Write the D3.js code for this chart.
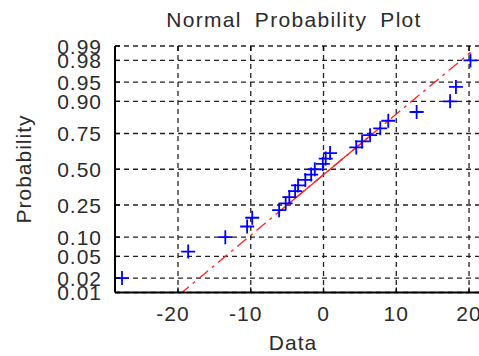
<!DOCTYPE html>
<html>
<head>
<meta charset="utf-8">
<script src="https://cdn.jsdelivr.net/npm/d3@7"></script>
<style>
  body { margin: 0; background: #fff; }
  text { font-family: "Liberation Sans", Arial, sans-serif; fill: #2b2b2b; }
</style>
</head>
<body>
<div id="chart"></div>
<script>
// sample values, sorted
var dataValues = [-27.7, -18.6, -13.5, -10.5, -9.8, -6.1, -5.2, -4.7, -3.9, -3.5,
                  -2.5, -1.7, -1.2, -0.1, 0.3, 0.9, 4.5, 5.3, 6.4, 7.8,
                  8.9, 12.8, 17.4, 18.2, 20.2];
var probTicks = [0.01, 0.02, 0.05, 0.10, 0.25, 0.50, 0.75, 0.90, 0.95, 0.98, 0.99];
var probLabels = ["0.01", "0.02", "0.05", "0.10", "0.25", "0.50", "0.75", "0.90", "0.95", "0.98", "0.99"];
var xTicks = [-20, -10, 0, 10, 20];
var xTickLabels = ["-20", "-10", "0", "10", "20"];
// reference line goes through the sample quartiles (p = 0.25, 0.75)
var refQuartiles = [-5.0, 6.8];

// inverse normal cdf (Acklam)
function norminv(p) {
  var a = [-3.969683028665376e+01, 2.209460984245205e+02, -2.759285104469687e+02, 1.383577518672690e+02, -3.066479806614716e+01, 2.506628277459239e+00];
  var b = [-5.447609879822406e+01, 1.615858368580409e+02, -1.556989798598866e+02, 6.680131188771972e+01, -1.328068155288572e+01];
  var c = [-7.784894002430293e-03, -3.223964580411365e-01, -2.400758277161838e+00, -2.549732539343734e+00, 4.374664141464968e+00, 2.938163982698783e+00];
  var d = [7.784695709041462e-03, 3.224671290700398e-01, 2.445134137142996e+00, 3.754408661907416e+00];
  var q, r;
  if (p < 0.02425) {
    q = Math.sqrt(-2 * Math.log(p));
    return (((((c[0]*q+c[1])*q+c[2])*q+c[3])*q+c[4])*q+c[5]) / ((((d[0]*q+d[1])*q+d[2])*q+d[3])*q+1);
  } else if (p > 1 - 0.02425) {
    q = Math.sqrt(-2 * Math.log(1 - p));
    return -(((((c[0]*q+c[1])*q+c[2])*q+c[3])*q+c[4])*q+c[5]) / ((((d[0]*q+d[1])*q+d[2])*q+d[3])*q+1);
  }
  q = p - 0.5; r = q * q;
  return (((((a[0]*r+a[1])*r+a[2])*r+a[3])*r+a[4])*r+a[5])*q / (((((b[0]*r+b[1])*r+b[2])*r+b[3])*r+b[4])*r+1);
}

var W = 479, H = 356;
var margin = {top: 46, right: 0, bottom: 63.5, left: 115};
var width = W - margin.left - margin.right;
var height = H - margin.top - margin.bottom;

var svg = d3.select("#chart").append("svg")
  .attr("width", W)
  .attr("height", H);

var g = svg.append("g")
  .attr("transform", "translate(" + margin.left + "," + margin.top + ")");

var x = d3.scaleLinear()
  .domain([-28.66, 21.37])
  .range([0, width]);

var y = d3.scaleLinear()
  .domain([norminv(0.01), norminv(0.99)])
  .range([height, 0]);

var n = dataValues.length;
// plotting positions (i - 0.5) / n
var points = dataValues.map(function(v, i) { return {v: v, p: (i + 0.5) / n}; });

g.append("defs").append("clipPath").attr("id", "clip")
  .append("rect").attr("width", width).attr("height", height);

// grid
g.selectAll(".hgrid").data(probTicks).enter().append("line")
  .attr("x1", 0).attr("x2", width)
  .attr("y1", function(d) { return y(norminv(d)); })
  .attr("y2", function(d) { return y(norminv(d)); })
  .attr("stroke", "#222").attr("stroke-width", 1.3)
  .attr("stroke-dasharray", "5,4");

g.selectAll(".vgrid").data(xTicks).enter().append("line")
  .attr("x1", function(d) { return x(d); })
  .attr("x2", function(d) { return x(d); })
  .attr("y1", 0).attr("y2", height)
  .attr("stroke", "#222").attr("stroke-width", 1.3)
  .attr("stroke-dasharray", "5,4");

// reference line
var sigma = (refQuartiles[1] - refQuartiles[0]) / (2 * norminv(0.75));
var mu = (refQuartiles[0] + refQuartiles[1]) / 2;
var lo = d3.min(dataValues), hi = d3.max(dataValues);
var refG = g.append("g").attr("clip-path", "url(#clip)");
refG.append("line")
  .attr("x1", x(lo)).attr("y1", y((lo - mu) / sigma))
  .attr("x2", x(hi)).attr("y2", y((hi - mu) / sigma))
  .attr("stroke", "#ff2020").attr("stroke-width", 1.3)
  .attr("stroke-dasharray", "12,5,3,5");
refG.append("line")
  .attr("x1", x(refQuartiles[0])).attr("y1", y(norminv(0.25)))
  .attr("x2", x(refQuartiles[1])).attr("y2", y(norminv(0.75)))
  .attr("stroke", "#ff2020").attr("stroke-width", 1.3);

// markers
var m = 7;
var marks = g.selectAll(".pt").data(points).enter().append("path")
  .attr("d", function(d) {
    var px = x(d.v), py = y(norminv(d.p));
    return "M" + (px - m) + "," + py + "H" + (px + m) + "M" + px + "," + (py - m) + "V" + (py + m);
  })
  .attr("stroke", "#0000ff").attr("stroke-width", 1.8).attr("fill", "none");

// axes lines and ticks
g.append("line").attr("x1", 0).attr("x2", 0).attr("y1", 0).attr("y2", height)
  .attr("stroke", "#000").attr("stroke-width", 2);
g.append("line").attr("x1", 0).attr("x2", width).attr("y1", height).attr("y2", height)
  .attr("stroke", "#000").attr("stroke-width", 2);

g.selectAll(".ytick").data(probTicks).enter().append("line")
  .attr("x1", 0).attr("x2", 5)
  .attr("y1", function(d) { return y(norminv(d)); })
  .attr("y2", function(d) { return y(norminv(d)); })
  .attr("stroke", "#000").attr("stroke-width", 1.3);
g.selectAll(".xtick").data(xTicks).enter().append("line")
  .attr("x1", function(d) { return x(d); })
  .attr("x2", function(d) { return x(d); })
  .attr("y1", height).attr("y2", height - 5)
  .attr("stroke", "#000").attr("stroke-width", 1.3);
g.selectAll(".xtick2").data(xTicks).enter().append("line")
  .attr("x1", function(d) { return x(d); })
  .attr("x2", function(d) { return x(d); })
  .attr("y1", 0).attr("y2", 5)
  .attr("stroke", "#000").attr("stroke-width", 1.3);

// tick labels
g.selectAll(".ylab").data(probTicks).enter().append("text")
  .attr("x", -13)
  .attr("y", function(d) { return y(norminv(d)); })
  .attr("dy", "0.36em")
  .attr("text-anchor", "end")
  .style("font-size", "21px")
  .style("letter-spacing", "1px")
  .text(function(d, i) { return probLabels[i]; });

g.selectAll(".xlab").data(xTicks).enter().append("text")
  .attr("x", function(d) { return x(d); })
  .attr("dx", function(d) { return d < 0 ? -5 : 0; })
  .attr("y", height + 28)
  .attr("text-anchor", "middle")
  .style("font-size", "21px")
  .style("letter-spacing", "1px")
  .text(function(d, i) { return xTickLabels[i]; });

// titles
svg.append("text")
  .attr("x", 294).attr("y", 27)
  .attr("text-anchor", "middle")
  .style("font-size", "21px")
  .style("letter-spacing", "1.3px")
  .style("word-spacing", "6px")
  .text("Normal Probability Plot");

svg.append("text")
  .attr("x", 293).attr("y", 350)
  .attr("text-anchor", "middle")
  .style("font-size", "21px")
  .style("letter-spacing", "1px")
  .text("Data");

svg.append("text")
  .attr("transform", "translate(31,169) rotate(-90)")
  .attr("text-anchor", "middle")
  .style("font-size", "21px")
  .style("letter-spacing", "1px")
  .text("Probability");
</script>
</body>
</html>
